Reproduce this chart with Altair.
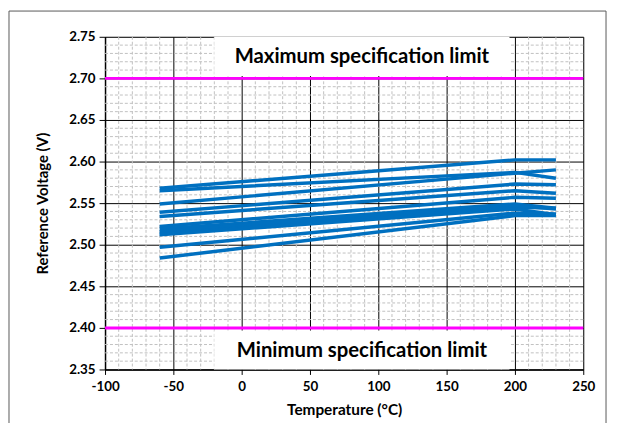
import altair as alt
import pandas as pd

# ---- data ----
temps = [-60, 200, 230]
s01 = [2.568, 2.602, 2.602]
s02 = [2.565, 2.587, 2.580]
s03 = [2.549, 2.586, 2.590]
s04 = [2.539, 2.573, 2.572]
s05 = [2.534, 2.565, 2.562]
s06 = [2.522, 2.557, 2.556]
s07 = [2.519, 2.549, 2.544]
s08 = [2.516, 2.547, 2.543]
s09 = [2.513, 2.545, 2.544]
s10 = [2.512, 2.543, 2.536]
s11 = [2.497, 2.538, 2.537]
s12 = [2.484, 2.535, 2.535]
all_series = [s01, s02, s03, s04, s05, s06, s07, s08, s09, s10, s11, s12]

max_limit = 2.70
min_limit = 2.40
limit_labels = ["Maximum specification limit", "Minimum specification limit"]
label_x = [-20, 196]
max_box_y = [2.703, 2.75]
min_box_y = [2.35, 2.397]
label_y = [2.7262, 2.3725]

x_ticks = [-100, -50, 0, 50, 100, 150, 200, 250]
y_ticks = [2.35, 2.40, 2.45, 2.50, 2.55, 2.60, 2.65, 2.70, 2.75]
x_minor = [v for v in range(-100, 251, 10) if v % 50 != 0]
y_minor = [round(2.35 + i * 0.01, 2) for i in range(41) if i % 5 != 0]

rows = []
for i, s in enumerate(all_series):
    for t, v in zip(temps, s):
        rows.append({"series": f"S{i+1:02d}", "temp": t, "volt": v})
df = pd.DataFrame(rows)

FONT = "Lato"
xs = alt.Scale(domain=[-100, 250], nice=False, zero=False)
ys = alt.Scale(domain=[2.35, 2.75], nice=False, zero=False)

xaxis = alt.Axis(values=x_ticks, labelExpr="'' + datum.value", title="Temperature (°C)", grid=True,
                 gridColor="black", gridWidth=1, tickColor="black", tickSize=5,
                 domainColor="black", domainWidth=1.5, labelFont=FONT, labelFontWeight="bold",
                 labelFontSize=13.5, labelColor="black", labelPadding=5, labelFlush=False,
                 titleFont=FONT, titleFontWeight="bold", titleFontSize=15.5, titleColor="black",
                 titlePadding=10)
yaxis = alt.Axis(values=y_ticks, format=".2f", title="Reference Voltage (V)", grid=True,
                 gridColor="black", gridWidth=1, tickColor="black", tickSize=6,
                 domainColor="black", domainWidth=1.5, labelFont=FONT, labelFontWeight="bold",
                 labelFontSize=13.5, labelColor="black", labelPadding=4, labelFlush=False,
                 titleFont=FONT, titleFontWeight="bold", titleFontSize=15, titleColor="black",
                 titlePadding=18)

base = alt.Chart(df)

minor_x = alt.Chart(pd.DataFrame({"temp": x_minor})).mark_rule(
    color="#c0c0c0", strokeDash=[3, 2], strokeWidth=1).encode(
    x=alt.X("temp:Q", scale=xs, axis=xaxis))
minor_y = alt.Chart(pd.DataFrame({"volt": y_minor})).mark_rule(
    color="#c0c0c0", strokeDash=[3, 2], strokeWidth=1).encode(
    y=alt.Y("volt:Q", scale=ys, axis=yaxis))

boxes = alt.Chart(pd.DataFrame({
    "x1": [label_x[0], label_x[0]], "x2": [label_x[1], label_x[1]],
    "y1": [max_box_y[0], min_box_y[0]], "y2": [max_box_y[1], min_box_y[1]]})).mark_rect(
    color="white").encode(
    x=alt.X("x1:Q", scale=xs), x2="x2:Q", y=alt.Y("y1:Q", scale=ys), y2="y2:Q")

limits = alt.Chart(pd.DataFrame({"volt": [max_limit, min_limit]})).mark_rule(
    color="#FF00FF", strokeWidth=3).encode(y=alt.Y("volt:Q", scale=ys))

lines = base.mark_line(color="#0070C0", strokeWidth=3.5).encode(
    x=alt.X("temp:Q", scale=xs), y=alt.Y("volt:Q", scale=ys), detail="series:N")

texts = alt.Chart(pd.DataFrame({
    "label": limit_labels, "x": [(label_x[0] + label_x[1]) / 2] * 2, "y": label_y})).mark_text(
    font=FONT, fontWeight="bold", fontSize=20.5, color="black", baseline="middle", align="center").encode(
    x=alt.X("x:Q", scale=xs), y=alt.Y("y:Q", scale=ys), text="label:N")

border = alt.Chart(pd.DataFrame({"d": [0]})).mark_rect(
    fill="white", fillOpacity=0, stroke="#595959", strokeWidth=1).encode(
    x=alt.value(-97), x2=alt.value(506), y=alt.value(-26), y2=alt.value(395))

chart = alt.layer(minor_x, minor_y, boxes, limits, lines, texts, border).properties(
    width=483, height=336,
    autosize=alt.AutoSizeParams(type="none"),
    padding={"left": 98, "top": 27, "right": 26, "bottom": 55},
).configure_view(stroke="black", strokeWidth=1.5).configure(background="white")

chart.save("out.html", embed_options={"renderer": "svg", "actions": False})
